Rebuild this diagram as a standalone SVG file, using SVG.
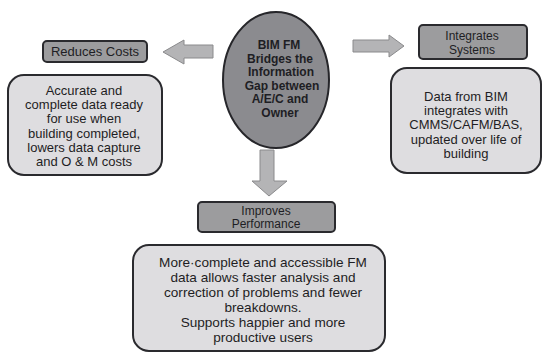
<svg xmlns="http://www.w3.org/2000/svg" width="543" height="353" viewBox="0 0 543 353">
<style>
text{font-family:"Liberation Sans",Arial,sans-serif;fill:#1e1e24;text-anchor:middle}
.hdr{fill:#9c9c9e;stroke:#2a2a2e;stroke-width:2}
.big{fill:#dedde0;stroke:#2a2a2e;stroke-width:2}
.arr{fill:#b4b4b6;stroke:#8a8a8c;stroke-width:1}
.t13{font-size:13px}
.t12{font-size:12px}
.t14{font-size:13.6px}
.b{font-weight:bold;font-size:12px}
</style>
<rect width="543" height="353" fill="#ffffff"/>
<g id="connectors">
<polygon class="arr" points="213,45 184,45 184,40 163,52 184,64 184,58 213,58"/>
<polygon class="arr" points="353,40 389,40 389,35 404,46 389,57 389,52 353,52"/>
<polygon class="arr" points="260,150 274,150 274,181 287,181 269,196 252,181 260,181"/>
</g>
<g id="center">
<ellipse cx="276" cy="80" rx="53" ry="68" fill="#8b8b8f" stroke="#26262a" stroke-width="2"/>
<text class="b" x="279" y="49">BIM FM</text>
<text class="b" x="280" y="62.5">Bridges the</text>
<text class="b" x="281" y="76">Information</text>
<text class="b" x="282" y="89.5">Gap between</text>
<text class="b" x="280" y="103">A/E/C and</text>
<text class="b" x="280" y="116.5">Owner</text>
</g>
<g id="reduces-costs">
<rect class="hdr" x="43" y="41" width="104" height="21" rx="4"/>
<text class="t13" x="95" y="56">Reduces Costs</text>
</g>
<g id="reduces-costs-detail">
<rect class="big" x="8" y="75" width="154" height="100" rx="16"/>
<text class="t13" x="84" y="95">Accurate and</text>
<text class="t13" x="84" y="109">complete data ready</text>
<text class="t13" x="84" y="123">for use when</text>
<text class="t13" x="84" y="138">building completed,</text>
<text class="t13" x="84" y="152">lowers data capture</text>
<text class="t13" x="84" y="166">and O &amp; M costs</text>
</g>
<g id="integrates-systems">
<rect class="hdr" x="419" y="25" width="108" height="34" rx="4"/>
<text class="t12" x="472" y="39.5">Integrates</text>
<text class="t12" x="472" y="53.5">Systems</text>
</g>
<g id="integrates-systems-detail">
<rect class="big" x="391" y="68" width="150" height="105" rx="16"/>
<text class="t13" x="466" y="101">Data from BIM</text>
<text class="t13" x="466" y="115">integrates with</text>
<text class="t13" x="466" y="129">CMMS/CAFM/BAS,</text>
<text class="t13" x="466" y="144">updated over life of</text>
<text class="t13" x="466" y="158">building</text>
</g>
<g id="improves-performance">
<rect class="hdr" x="198" y="202" width="137" height="30" rx="4"/>
<text class="t12" x="266" y="214.5">Improves</text>
<text class="t12" x="266" y="228">Performance</text>
</g>
<g id="improves-performance-detail">
<rect class="big" x="133" y="245" width="252" height="106" rx="16"/>
<text class="t14" x="263" y="267">More·complete and accessible FM</text>
<text class="t14" x="263" y="282">data allows faster analysis and</text>
<text class="t14" x="263" y="297">correction of problems and fewer</text>
<text class="t14" x="263" y="312">breakdowns.</text>
<text class="t14" x="263" y="327">Supports happier and more</text>
<text class="t14" x="263" y="342">productive users</text>
</g>
</svg>
